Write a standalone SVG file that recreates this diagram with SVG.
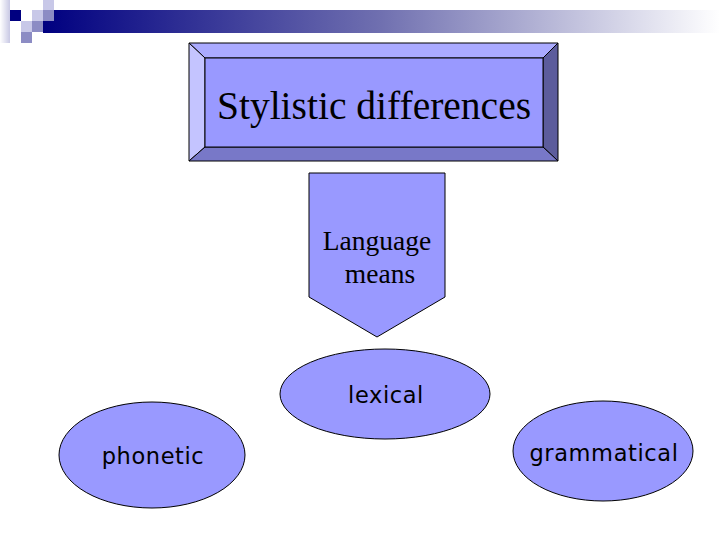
<svg xmlns="http://www.w3.org/2000/svg" width="720" height="540" viewBox="0 0 720 540">
<defs>
<linearGradient id="bar" x1="0" y1="0" x2="1" y2="0">
<stop offset="0" stop-color="#000080"/>
<stop offset="0.5" stop-color="#7070b0"/>
<stop offset="1" stop-color="#ffffff"/>
</linearGradient>
<linearGradient id="edge" x1="0" y1="0" x2="1" y2="0">
<stop offset="0" stop-color="#ffffff"/>
<stop offset="1" stop-color="#c8c8e4"/>
</linearGradient>
<style>
.node{fill:#9999ff;stroke:#000000;stroke-width:1}
.ser{font-family:"Liberation Serif","Times New Roman",serif;fill:#000000;text-anchor:middle}
.sans{font-family:"DejaVu Sans",sans-serif;font-size:22.5px;letter-spacing:0.6px;fill:#000000;text-anchor:middle}
</style>
</defs>
<rect width="720" height="540" fill="#ffffff"/>
<g id="decoration">
<rect x="0" y="0" width="10" height="43" fill="url(#edge)"/>
<rect x="43" y="10" width="677" height="23" fill="url(#bar)"/>
<rect x="10" y="10" width="11" height="11" fill="#000080"/>
<rect x="32" y="10" width="11" height="11" fill="#c8c8e8"/>
<rect x="43" y="0" width="11" height="10" fill="#c8c8e8"/>
<rect x="43" y="10" width="11" height="11" fill="#8c8cc4"/>
<rect x="21" y="21" width="11" height="11" fill="#c8c8e8"/>
<rect x="32" y="21" width="11" height="11" fill="#8c8cc4"/>
<rect x="21" y="32" width="11" height="11" fill="#8c8cc4"/>
</g>
<g id="title">
<polygon points="189,43 558,43 543,58 205,58" fill="#aaaaff" stroke="#000" stroke-width="1"/>
<polygon points="189,43 205,58 205,147 189,161" fill="#c4c4ff" stroke="#000" stroke-width="1"/>
<polygon points="558,43 558,161 543,147 543,58" fill="#5c5c9c" stroke="#000" stroke-width="1"/>
<polygon points="189,161 205,147 543,147 558,161" fill="#7878c8" stroke="#000" stroke-width="1"/>
<rect x="205" y="58" width="338" height="89" fill="#9999ff" stroke="#000" stroke-width="1"/>
<text class="ser" x="374" y="119" font-size="39.5">Stylistic differences</text>
</g>
<g id="language-means">
<polygon class="node" points="309,173 445,173 445,297 377,337 309,297"/>
<text class="ser" x="377" y="250" font-size="27.5">Language</text>
<text class="ser" x="380" y="283" font-size="27.5">means</text>
</g>
<g id="lexical">
<ellipse class="node" cx="385" cy="394" rx="105" ry="45"/>
<text class="sans" x="386" y="403">lexical</text>
</g>
<g id="phonetic">
<ellipse class="node" cx="152" cy="455" rx="93" ry="53"/>
<text class="sans" x="153" y="464">phonetic</text>
</g>
<g id="grammatical">
<ellipse class="node" cx="603" cy="451" rx="90" ry="50"/>
<text class="sans" x="604" y="461">grammatical</text>
</g>
<g id="connectors"></g>
</svg>
